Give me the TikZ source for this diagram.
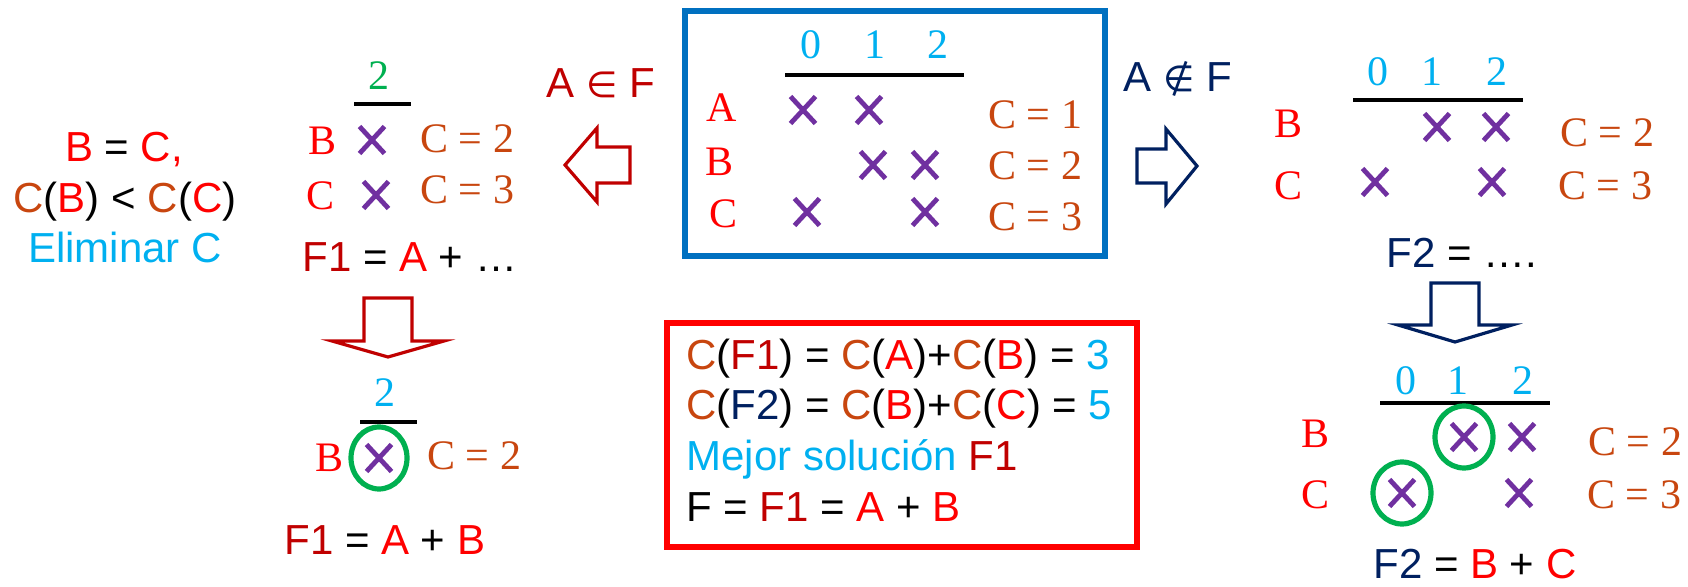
\documentclass[tikz,border=0pt]{standalone}
\usepackage{fontspec}
\setmainfont{Liberation Serif}
\setsansfont{Liberation Sans}
\newfontfamily\symf{DejaVu Sans}
\usepackage{xcolor}
\usepackage{tikz}
\usetikzlibrary{shapes.misc}

\definecolor{drk}{HTML}{C00000}
\definecolor{rd}{HTML}{FF0000}
\definecolor{brn}{RGB}{200,70,15}
\definecolor{pur}{HTML}{7030A0}
\definecolor{cyn}{HTML}{00B0F0}
\definecolor{nvy}{HTML}{002060}
\definecolor{grn}{HTML}{00B050}
\definecolor{blu}{HTML}{0070C0}

\newcommand{\cst}[1]{\textcolor{brn}{C}(\textcolor{rd}{#1})}
\newcommand{\setsym}[1]{{\symf\fontsize{18}{25}\selectfont #1}}

\tikzset{
  srf/.style={inner sep=0pt, anchor=base, font=\fontsize{21}{25}\selectfont},
  sns/.style={inner sep=0pt, anchor=base west, font=\sffamily\fontsize{21}{25}\selectfont},
  xmark/.style={cross out, draw=pur, line width=2.4pt, minimum width=12.5pt,
                minimum height=13.5pt, inner sep=0pt, outer sep=0pt},
  ring/.style={draw=grn, line width=2.6pt},
  bar/.style={line width=2.2pt},
  blk/.style={line width=1.6pt, fill=white},
}

\begin{document}
\begin{tikzpicture}[x=0.5pt, y=-0.5pt]
    \useasboundingbox (0,0) rectangle (1688,587);

    % Rule on the far left
    \node[sns, anchor=base] (eqbc) at (124,162) {\textcolor{rd}{B} = \textcolor{rd}{C,}};
    \node[sns, anchor=base] (cmpbc) at (125,213) {\cst{B} < \cst{C}};
    \node[sns, anchor=base, text=cyn] (elim) at (125,263) {Eliminar C};

    % Branch A in F: reduced table
    \node[srf, text=grn] (dga) at (379,90) {2};
    \draw[bar] (354,104) -- (411,104);
    \node[srf, text=rd] (lba) at (323,155) {B};
    \node[xmark] (xba) at (372,140) {};
    \node[srf, anchor=base west, text=brn] (cba) at (420,153) {C = 2};
    \node[srf, text=rd] (lca) at (321,210) {C};
    \node[xmark] (xca) at (376,195) {};
    \node[srf, anchor=base west, text=brn] (cca) at (420,204) {C = 3};
    \node[sns] (fia) at (302,272) {\textcolor{drk}{F1} = \textcolor{rd}{A} + …};

    % Down arrow after C is removed
    \draw[blk, draw=drk] (364,298) -- (412,298) -- (412,341) -- (444,341)
                         -- (388,357) -- (332,341) -- (364,341) -- cycle;

    % Branch A in F: final column
    \node[srf, text=cyn] (dgb) at (385,407) {2};
    \draw[bar] (360,422) -- (417,422);
    \node[srf, text=rd] (lbb) at (330,472) {B};
    \node[xmark] (xbb) at (379,458) {};
    \draw[ring] (xbb) ellipse [x radius=14pt, y radius=15.5pt];
    \node[srf, anchor=base west, text=brn] (cbb) at (427,470) {C = 2};
    \node[sns] (fib) at (284,555) {\textcolor{drk}{F1} = \textcolor{rd}{A} + \textcolor{rd}{B}};

    % Left block arrow with its label
    \node[sns, text=drk] (inf) at (546,98) {A \setsym{∈} F};
    \draw[blk, draw=drk] (630,147) -- (597,147) -- (597,128) -- (565,165)
                         -- (597,202) -- (597,183) -- (630,183) -- cycle;

    % Full table in the blue frame
    \draw[draw=blu, line width=2.8pt] (685,11) rectangle (1105,256);
    \node[srf, text=cyn] (d0) at (811,59) {0};
    \node[srf, text=cyn] (d1) at (875,59) {1};
    \node[srf, text=cyn] (d2) at (938,59) {2};
    \draw[bar] (785,75) -- (964,75);
    \node[srf, text=rd] (la) at (722,122) {A};
    \node[srf, text=rd] (lb) at (720,176) {B};
    \node[srf, text=rd] (lc) at (723,228) {C};
    \node[xmark] (xa0) at (803,110) {};
    \node[xmark] (xa1) at (869,110) {};
    \node[xmark] (xb1) at (873,165) {};
    \node[xmark] (xb2) at (925,165) {};
    \node[xmark] (xc0) at (807,212) {};
    \node[xmark] (xc2) at (925,212) {};
    \node[srf, anchor=base west, text=brn] (ca) at (988,129) {C = 1};
    \node[srf, anchor=base west, text=brn] (cb) at (988,180) {C = 2};
    \node[srf, anchor=base west, text=brn] (cc) at (988,231) {C = 3};

    % Right block arrow with its label
    \node[sns, text=nvy] (ninf) at (1123,92) {A \setsym{∉} F};
    \draw[blk, draw=nvy] (1137,149) -- (1166,149) -- (1166,129) -- (1197,166)
                         -- (1166,204) -- (1166,183) -- (1137,183) -- cycle;

    % Branch A not in F: table
    \node[srf, text=cyn] (ed0) at (1378,86) {0};
    \node[srf, text=cyn] (ed1) at (1432,86) {1};
    \node[srf, text=cyn] (ed2) at (1497,86) {2};
    \draw[bar] (1353,100) -- (1523,100);
    \node[srf, text=rd] (elb) at (1288,138) {B};
    \node[srf, text=rd] (elc) at (1288,200) {C};
    \node[xmark] (exb1) at (1437,127) {};
    \node[xmark] (exb2) at (1496,127) {};
    \node[xmark] (exc0) at (1375,182) {};
    \node[xmark] (exc2) at (1492,182) {};
    \node[srf, anchor=base west, text=brn] (ecb) at (1560,147) {C = 2};
    \node[srf, anchor=base west, text=brn] (ecc) at (1558,200) {C = 3};
    \node[sns] (fza) at (1386,268) {\textcolor{nvy}{F2} = ….};

    % Down arrow on the right
    \draw[blk, draw=nvy] (1431,283) -- (1479,283) -- (1479,325) -- (1512,325)
                         -- (1455,342) -- (1398,325) -- (1431,325) -- cycle;

    % Branch A not in F: chosen crosses
    \node[srf, text=cyn] (fd0) at (1406,395) {0};
    \node[srf, text=cyn] (fd1) at (1458,395) {1};
    \node[srf, text=cyn] (fd2) at (1523,395) {2};
    \draw[bar] (1380,403) -- (1550,403);
    \node[srf, text=rd] (flb) at (1315,448) {B};
    \node[srf, text=rd] (flc) at (1315,509) {C};
    \node[xmark] (fxb1) at (1464,437) {};
    \node[xmark] (fxb2) at (1522,437) {};
    \node[xmark] (fxc0) at (1402,493) {};
    \node[xmark] (fxc2) at (1519,493) {};
    \draw[ring] (fxb1) ellipse [x radius=14.5pt, y radius=15.5pt];
    \draw[ring] (fxc0) ellipse [x radius=14.5pt, y radius=15.5pt];
    \node[srf, anchor=base west, text=brn] (fcb) at (1588,456) {C = 2};
    \node[srf, anchor=base west, text=brn] (fcc) at (1587,509) {C = 3};
    \node[sns] (fzb) at (1373,579) {\textcolor{nvy}{F2} = \textcolor{rd}{B} + \textcolor{rd}{C}};

    % Result box
    \draw[draw=rd, line width=3pt] (667,323) rectangle (1137,547);
    \node[sns] (res1) at (686,370) {\textcolor{brn}{C}(\textcolor{drk}{F1}) = \cst{A}+\cst{B} = \textcolor{cyn}{3}};
    \node[sns] (res2) at (686,420) {\textcolor{brn}{C}(\textcolor{nvy}{F2}) = \cst{B}+\cst{C} = \textcolor{cyn}{5}};
    \node[sns] (res3) at (686,471) {\textcolor{cyn}{Mejor solución} \textcolor{drk}{F1}};
    \node[sns] (res4) at (686,522) {F = \textcolor{drk}{F1} = \textcolor{rd}{A} + \textcolor{rd}{B}};

\end{tikzpicture}
\end{document}
